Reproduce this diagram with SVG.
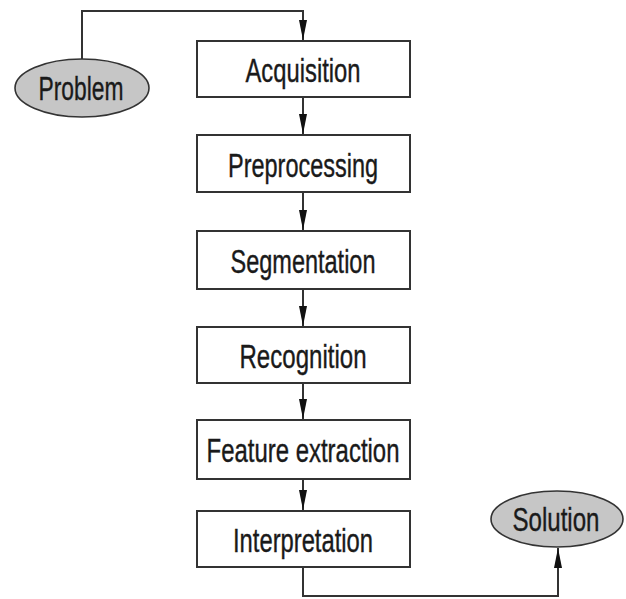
<svg xmlns="http://www.w3.org/2000/svg" width="626" height="599" viewBox="0 0 626 599">
<defs>
<style>
.box{fill:#fff;stroke:#333;stroke-width:2}
.ell{fill:#c6c6c6;stroke:#333;stroke-width:1.6}
.lbl{font-family:"Liberation Sans",Arial,sans-serif;font-size:34px;fill:#1a1a1a;stroke:#1a1a1a;stroke-width:0.4;text-anchor:middle}
.con{fill:none;stroke:#333;stroke-width:2}
</style>
<marker id="ah" viewBox="0 0 20 10" refX="20" refY="5" markerWidth="20" markerHeight="10" markerUnits="userSpaceOnUse" orient="auto">
<path d="M0,1 L20,5 L0,9 Z" fill="#111"/>
</marker>
</defs>
<rect width="626" height="599" fill="#fff"/>
<g id="connectors">
<path class="con" d="M82,59 V11 H303 V40" marker-end="url(#ah)"/>
<path class="con" d="M303,97 V134" marker-end="url(#ah)"/>
<path class="con" d="M303,192 V230" marker-end="url(#ah)"/>
<path class="con" d="M303,289 V326" marker-end="url(#ah)"/>
<path class="con" d="M303,383 V419" marker-end="url(#ah)"/>
<path class="con" d="M303,479 V510" marker-end="url(#ah)"/>
<path class="con" d="M303,567 V596 H558 V548" marker-end="url(#ah)"/>
</g>
<g id="problem">
<ellipse class="ell" cx="82" cy="88" rx="67" ry="29"/>
<text class="lbl" x="81" y="100" textLength="85" lengthAdjust="spacingAndGlyphs">Problem</text>
</g>
<g id="acquisition">
<rect class="box" x="197" y="41" width="213" height="56"/>
<text class="lbl" x="303" y="82" textLength="115" lengthAdjust="spacingAndGlyphs">Acquisition</text>
</g>
<g id="preprocessing">
<rect class="box" x="197" y="135" width="213" height="57"/>
<text class="lbl" x="303" y="177" textLength="150" lengthAdjust="spacingAndGlyphs">Preprocessing</text>
</g>
<g id="segmentation">
<rect class="box" x="197" y="231" width="213" height="58"/>
<text class="lbl" x="303" y="273" textLength="145" lengthAdjust="spacingAndGlyphs">Segmentation</text>
</g>
<g id="recognition">
<rect class="box" x="197" y="327" width="213" height="56"/>
<text class="lbl" x="303" y="368" textLength="127" lengthAdjust="spacingAndGlyphs">Recognition</text>
</g>
<g id="feature-extraction">
<rect class="box" x="197" y="420" width="213" height="59"/>
<text class="lbl" x="303" y="462" textLength="193" lengthAdjust="spacingAndGlyphs">Feature extraction</text>
</g>
<g id="interpretation">
<rect class="box" x="197" y="511" width="213" height="56"/>
<text class="lbl" x="303" y="552" textLength="140" lengthAdjust="spacingAndGlyphs">Interpretation</text>
</g>
<g id="solution">
<ellipse class="ell" cx="557" cy="519" rx="66" ry="28"/>
<text class="lbl" x="556" y="531" textLength="87" lengthAdjust="spacingAndGlyphs">Solution</text>
</g>
</svg>
